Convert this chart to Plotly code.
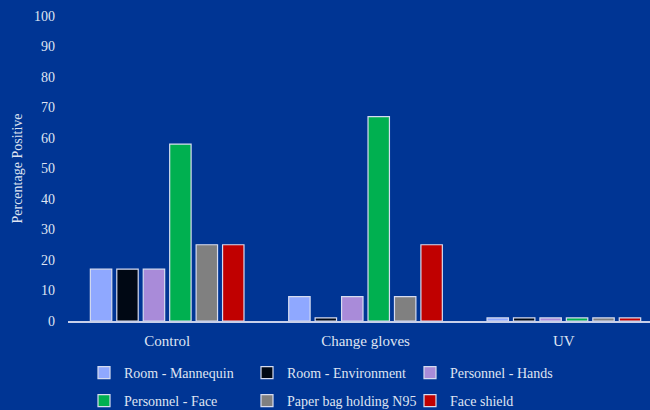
import plotly.graph_objects as go

categories = ["Control", "Change gloves", "UV"]
series_names = ["Room - Mannequin", "Room - Environment", "Personnel - Hands",
                "Personnel - Face", "Paper bag holding N95", "Face shield"]
room_mannequin = [17, 8, 1]
room_environment = [17, 1, 1]
personnel_hands = [17, 8, 1]
personnel_face = [58, 67, 1]
paper_bag = [25, 8, 1]
face_shield = [25, 25, 1]
series_values = [room_mannequin, room_environment, personnel_hands,
                 personnel_face, paper_bag, face_shield]
colors = ["#8fa8ff", "#000814", "#a98bd9", "#00b050", "#808080", "#c00000"]
y_ticks = list(range(0, 101, 10))

FONT = "Liberation Serif"
TXT = "#dfe4f2"
BG = "#003594"

fig = go.Figure()
for i, (name, vals, col) in enumerate(zip(series_names, series_values, colors)):
    fig.add_trace(go.Bar(
        x=categories, y=vals, name=name,
        legend="legend" if i < 3 else "legend2",
        marker=dict(color=col, line=dict(color="#d6dcf0", width=1.2)),
    ))

W, H = 650, 410
ml, mr, mt, mb = 68, 0, 16, 89
ph = H - mt - mb
leg_common = dict(
    orientation="h", xanchor="left", yanchor="middle",
    font=dict(family=FONT, size=14, color=TXT),
    entrywidth=118, entrywidthmode="pixels",
    bgcolor="rgba(0,0,0,0)", itemwidth=30,
)
lx = (84 - ml) / (W - ml)
fig.update_layout(
    width=W, height=H,
    margin=dict(l=ml, r=mr, t=mt, b=mb, autoexpand=False),
    paper_bgcolor=BG, plot_bgcolor=BG,
    barmode="group", bargap=0.2, bargroupgap=0.19,
    font=dict(family=FONT, color=TXT, size=14),
    showlegend=True,
    legend=dict(x=lx, y=-(373 - (H - mb)) / ph, **leg_common),
    legend2=dict(x=lx, y=-(401 - (H - mb)) / ph, **leg_common),
    xaxis=dict(
        range=[-0.5, 2 + (650 - 564) / 198],
        showline=True, linecolor="#c8d0ea", linewidth=1.5,
        showgrid=False, zeroline=False, ticks="", ticklabelstandoff=5,
        tickfont=dict(family=FONT, size=15, color=TXT),
    ),
    yaxis=dict(
        range=[0, 100], tickvals=y_ticks, showgrid=False, zeroline=False,
        showline=False, ticks="", ticklabelstandoff=12,
        tickfont=dict(family=FONT, size=14, color=TXT),
        title=dict(text="Percentage Positive", font=dict(family=FONT, size=14, color=TXT), standoff=8),
    ),
)

fig.write_html("out.html")
